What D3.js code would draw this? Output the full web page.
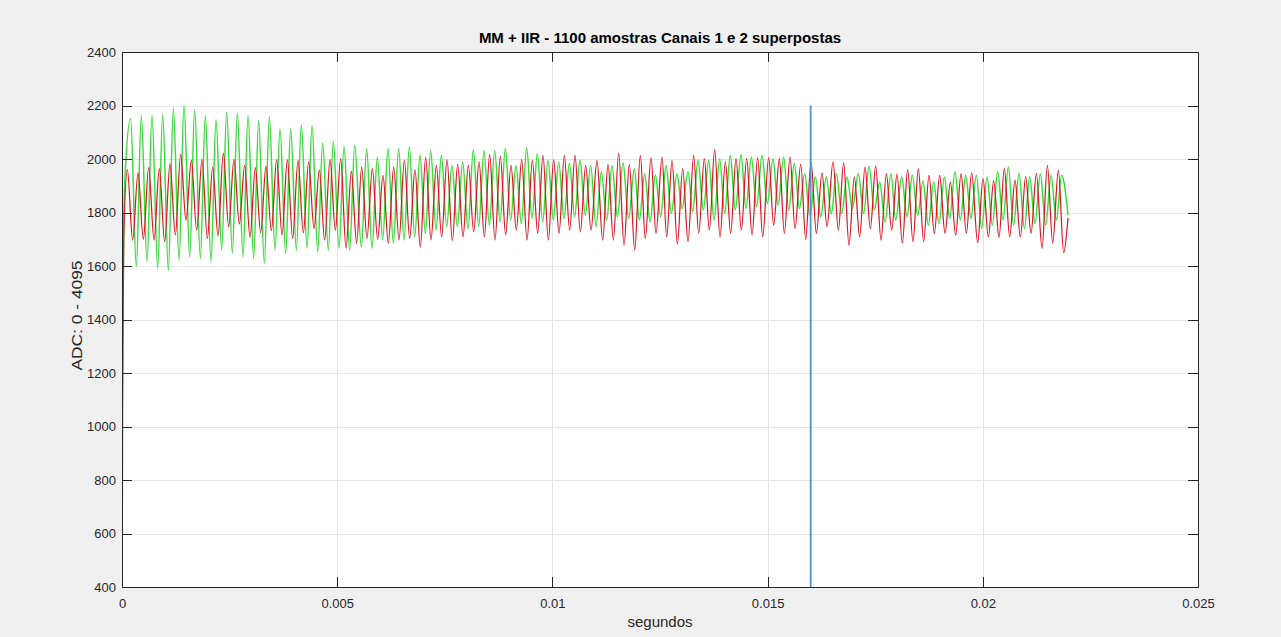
<!DOCTYPE html>
<html>
<head>
<meta charset="utf-8">
<script src="https://cdn.jsdelivr.net/npm/d3@7"></script>
<style>
  html, body { margin: 0; padding: 0; background: #f0f0f0; }
  svg { display: block; }
  text { font-family: "Liberation Sans", Arial, Helvetica, sans-serif; }
</style>
</head>
<body>
<svg id="chart" width="1281" height="637"></svg>
<script>
// ---- labels and ticks ----
const chartTitle = "MM + IIR - 1100 amostras Canais 1 e 2 superpostas";
const xTitle = "segundos";
const yTitle = "ADC: 0 - 4095";
const xTicks = [0, 0.005, 0.01, 0.015, 0.02, 0.025];
const xTickLabels = ["0", "0.005", "0.01", "0.015", "0.02", "0.025"];
const yTicks = [400, 600, 800, 1000, 1200, 1400, 1600, 1800, 2000, 2200, 2400];

// vertical marker (seconds, ADC span)
const markerTime = 0.016;
const markerSpan = [400, 2200];

// ---- green trace: turning points (time in ms, ADC counts) ----
const greenMs = [0, 0.02, 0.06,
  0.201, 0.333, 0.449, 0.581, 0.697, 0.829, 0.945, 1.077, 1.193, 1.325, 1.441, 1.573, 1.688, 1.820,
  1.936, 2.068, 2.184, 2.316, 2.432, 2.564, 2.680, 2.812, 2.928, 3.059, 3.175, 3.307, 3.423, 3.555,
  3.671, 3.803, 3.919, 4.051, 4.167, 4.299, 4.415, 4.547, 4.662, 4.794, 4.910, 5.042, 5.158, 5.290, 5.406,
  5.561, 5.685, 5.808, 5.932, 6.056, 6.180, 6.304, 6.428, 6.552, 6.676, 6.800, 6.924, 7.048, 7.172,
  7.296, 7.420, 7.543, 7.667, 7.791, 7.915, 8.039, 8.163, 8.287, 8.411, 8.535, 8.659, 8.783, 8.907,
  9.030, 9.154, 9.278, 9.402, 9.526, 9.650, 9.774, 9.898, 10.022, 10.146, 10.270, 10.394, 10.517, 10.641,
  10.765, 10.889,
  11.013, 11.137, 11.261, 11.385, 11.509, 11.640, 11.772, 11.904, 12.020, 12.144, 12.268, 12.392,
  12.516, 12.640, 12.763, 12.895, 13.011, 13.151, 13.259, 13.383, 13.507, 13.631, 13.755, 13.886,
  14.003, 14.134, 14.250, 14.382, 14.498, 14.622, 14.746, 14.870, 14.994, 15.126, 15.242, 15.374,
  15.490, 15.621, 15.738, 15.861, 15.985, 16.109, 16.233, 16.365, 16.480,
  16.597, 16.721, 16.845, 16.969, 17.108, 17.232, 17.356, 17.480, 17.604, 17.728, 17.867, 17.976,
  18.115, 18.239, 18.363, 18.487, 18.611, 18.735, 18.859, 18.982, 19.106, 19.230, 19.354, 19.478,
  19.602, 19.726, 19.850, 19.974, 20.098, 20.222, 20.346, 20.470, 20.593, 20.717, 20.841, 20.965,
  21.089, 21.213, 21.337, 21.461, 21.585, 21.709, 21.833, 21.980];
const greenAdc = [400, 1300, 1900,
  2150, 1598, 2163, 1616, 2163, 1591, 2166, 1585, 2191, 1622, 2200, 1635, 2184, 1629,
  2163, 1616, 2147, 1660, 2175, 1650, 2171, 1635, 2163, 1629, 2144, 1610, 2159, 1660,
  2113, 1647, 2113, 1660, 2129, 1666, 2125, 1653, 2060, 1660, 2066, 1666, 2047, 1660, 2051,
  1672, 2039, 1666, 2007, 1697, 2039, 1685, 2039, 1697, 2045, 1709, 2014, 1722, 2032,
  1734, 2014, 1747, 1976, 1747, 1989, 1740, 2035, 1747, 2032, 1753, 2032, 1765, 2039,
  1772, 1976, 1759, 2042, 1778, 2020, 1765, 1995, 1772, 1989, 1778, 1983, 1784, 1995,
  1790, 1976,
  1747, 1952, 1772, 1976, 1784, 1986, 1778, 1964, 1772, 1945, 1765, 1939,
  1784, 1976, 1797, 1945, 1815, 1952, 1803, 1995, 1809, 1995, 1772, 2001,
  1797, 2014, 1809, 2017, 1815, 2007, 1822, 2014, 1834, 2001, 1828, 2007,
  1809, 1983, 1815, 1945, 1790, 1933, 1784, 1933, 1795,
  1945, 1797, 1933, 1815, 1945, 1797, 1973, 1809, 1914, 1765, 1945, 1772,
  1933, 1784, 1939, 1790, 1918, 1753, 1914, 1759, 1933, 1778, 1952, 1772,
  1939, 1778, 1939, 1740, 1933, 1753, 1952, 1772, 1970, 1753, 1948, 1740,
  1933, 1759, 1945, 1753, 1939, 1772, 1939, 1790];

// ---- red trace: turning points (time in ms, ADC counts) ----
const redMs = [0, 0.04,
  0.124, 0.248, 0.372, 0.496, 0.620, 0.744, 0.867, 0.991, 1.115, 1.239, 1.363, 1.487, 1.611, 1.735,
  1.859, 1.983, 2.107, 2.231, 2.354, 2.478, 2.602, 2.726, 2.850, 2.974, 3.098, 3.222, 3.346, 3.470,
  3.594, 3.718, 3.841, 3.965, 4.089, 4.213, 4.337, 4.461, 4.585, 4.709, 4.833, 4.957, 5.081, 5.205,
  5.328, 5.452,
  5.568, 5.692, 5.816, 5.940, 6.064, 6.188, 6.312, 6.436, 6.560, 6.684, 6.807, 6.931, 7.055, 7.179,
  7.303, 7.427, 7.551, 7.675, 7.799, 7.923, 8.047, 8.171, 8.295, 8.419, 8.542, 8.666, 8.790, 8.914,
  9.038, 9.162, 9.286, 9.410, 9.534, 9.658, 9.782, 9.906, 10.030, 10.154, 10.277, 10.401, 10.525, 10.649,
  10.773, 10.897,
  11.036, 11.168, 11.292, 11.416, 11.540, 11.664, 11.788, 11.912, 12.043, 12.159, 12.291, 12.407,
  12.547, 12.655, 12.779, 12.903, 13.027, 13.151, 13.282, 13.399, 13.530, 13.646, 13.770, 13.894,
  14.018, 14.142, 14.266, 14.390, 14.514, 14.638, 14.769, 14.886, 15.025, 15.141, 15.273, 15.389,
  15.521, 15.637, 15.769, 15.885, 16.009, 16.133, 16.264, 16.380,
  16.520, 16.644, 16.767, 16.891, 17.015, 17.139, 17.263, 17.387, 17.511, 17.635, 17.759, 17.883,
  18.007, 18.131, 18.254, 18.378, 18.502, 18.626, 18.750, 18.874, 18.998, 19.122, 19.246, 19.370,
  19.494, 19.618, 19.741, 19.881, 20.005, 20.129, 20.253, 20.377, 20.500, 20.624, 20.748, 20.872,
  20.996, 21.120, 21.244, 21.376, 21.500, 21.624, 21.755, 21.879, 21.980];
const redAdc = [900, 1700,
  1960, 1697, 1948, 1700, 1968, 1697, 1964, 1691, 1983, 1716, 2017, 1771, 1995, 1734,
  1998, 1703, 1970, 1712, 2022, 1747, 1998, 1757, 1976, 1707, 1968, 1724, 1973, 1732,
  1998, 1716, 1998, 1703, 1995, 1724, 1989, 1740, 1958, 1697, 1998, 1734, 2001, 1666,
  1955, 1685,
  1970, 1703, 1964, 1700, 1939, 1685, 1970, 1697, 1995, 1703, 1960, 1670, 2007, 1697,
  1976, 1709, 1998, 1695, 1980, 1709, 1976, 1728, 1989, 1709, 2017, 1697, 2010, 1716,
  1976, 1734, 1998, 1697, 1995, 1722, 2014, 1697, 1998, 1722, 2014, 1734, 2014, 1728,
  1976, 1734,
  1995, 1697, 1980, 1697, 2022, 1678, 1980, 1660, 2014, 1703, 2005, 1722,
  2007, 1709, 1995, 1682, 1964, 1691, 2014, 1722, 2001, 1734, 2035, 1709,
  1989, 1722, 2001, 1734, 2001, 1716, 2005, 1709, 2005, 1753, 2001, 1722,
  2007, 1740, 1980, 1700, 1989, 1722, 1948, 1747,
  1989, 1734, 1986, 1678, 1933, 1709, 1970, 1740, 1973, 1697, 1945, 1734,
  1943, 1685, 1960, 1691, 1964, 1691, 1939, 1722, 1939, 1722, 1914, 1716,
  1945, 1722, 1948, 1687, 1927, 1709, 1918, 1707, 1964, 1709, 1921, 1709,
  1933, 1722, 1945, 1666, 1976, 1685, 1958, 1650, 1780];

// ---- layout ----
const plot = { left: 122, right: 1198, top: 52, bottom: 587 };
const ink = "#262626";

const svg = d3.select("#chart");
const x = d3.scaleLinear().domain([0, 0.025]).range([plot.left, plot.right]);
const y = d3.scaleLinear().domain([400, 2400]).range([plot.bottom, plot.top]);

// axes background
svg.append("rect")
  .attr("x", plot.left).attr("y", plot.top)
  .attr("width", plot.right - plot.left).attr("height", plot.bottom - plot.top)
  .attr("fill", "#ffffff");

// grid
const grid = svg.append("g").attr("stroke", "#e4e4e4").attr("stroke-width", 1).attr("shape-rendering", "crispEdges");
grid.selectAll("line.gx").data(xTicks.slice(1, -1)).join("line")
  .attr("x1", d => Math.round(x(d)) + 0.5).attr("x2", d => Math.round(x(d)) + 0.5)
  .attr("y1", plot.top).attr("y2", plot.bottom);
grid.selectAll("line.gy").data(yTicks.slice(1, -1)).join("line")
  .attr("y1", d => Math.round(y(d)) + 0.5).attr("y2", d => Math.round(y(d)) + 0.5)
  .attr("x1", plot.left).attr("x2", plot.right);

// clip for traces
svg.append("clipPath").attr("id", "plotClip").append("rect")
  .attr("x", plot.left).attr("y", plot.top)
  .attr("width", plot.right - plot.left).attr("height", plot.bottom - plot.top);

const line = d3.line()
  .x(d => x(d[0] / 1000))
  .y(d => y(d[1]))
  .curve(d3.curveMonotoneX);

const traces = svg.append("g").attr("clip-path", "url(#plotClip)");
traces.append("path")
  .datum(d3.zip(greenMs, greenAdc))
  .attr("fill", "none").attr("stroke", "#3ade3a").attr("stroke-width", 1.5)
  .attr("stroke-linejoin", "round")
  .attr("d", line);
traces.append("path")
  .datum(d3.zip(redMs, redAdc))
  .attr("fill", "none").attr("stroke", "#dc1820").attr("stroke-width", 1.25)
  .attr("stroke-linejoin", "round")
  .attr("d", line);

// marker line
traces.append("line")
  .attr("x1", x(markerTime)).attr("x2", x(markerTime))
  .attr("y1", y(markerSpan[0])).attr("y2", y(markerSpan[1]))
  .attr("stroke", "#4f93cc").attr("stroke-width", 1.8);

// axes (ticks point inwards, box on all four sides)
function styleAxis(g) {
  g.selectAll("path.domain").attr("stroke", ink).attr("stroke-width", 1);
  g.selectAll(".tick line").attr("stroke", ink).attr("stroke-width", 1);
  g.selectAll(".tick text").attr("fill", ink).attr("font-size", 13);
  g.attr("shape-rendering", "crispEdges");
}

const fmt = (d, i) => xTickLabels[i];

svg.append("g").attr("transform", `translate(0,${plot.bottom})`)
  .call(d3.axisBottom(x).tickValues(xTicks).tickFormat(fmt).tickSizeInner(-10).tickSizeOuter(0).tickPadding(12))
  .call(styleAxis);
svg.append("g").attr("transform", `translate(0,${plot.top})`)
  .call(d3.axisTop(x).tickValues(xTicks).tickFormat("").tickSizeInner(-10).tickSizeOuter(0))
  .call(styleAxis);
svg.append("g").attr("transform", `translate(${plot.left},0)`)
  .call(d3.axisLeft(y).tickValues(yTicks).tickFormat(d3.format("d")).tickSizeInner(-10).tickSizeOuter(0).tickPadding(6))
  .call(styleAxis);
svg.append("g").attr("transform", `translate(${plot.right},0)`)
  .call(d3.axisRight(y).tickValues(yTicks).tickFormat("").tickSizeInner(-10).tickSizeOuter(0))
  .call(styleAxis);

// titles
svg.append("text")
  .attr("x", (plot.left + plot.right) / 2).attr("y", 43)
  .attr("text-anchor", "middle").attr("font-size", 15).attr("font-weight", "bold")
  .attr("fill", "#000").text(chartTitle);
svg.append("text")
  .attr("x", (plot.left + plot.right) / 2).attr("y", 627)
  .attr("text-anchor", "middle").attr("font-size", 15).attr("fill", ink).text(xTitle);
svg.append("text")
  .attr("transform", `translate(82,${(plot.top + plot.bottom) / 2 - 4}) rotate(-90)`)
  .attr("text-anchor", "middle").attr("font-size", 15).attr("fill", ink)
  .attr("textLength", 110).attr("lengthAdjust", "spacingAndGlyphs")
  .text(yTitle);
</script>
</body>
</html>
